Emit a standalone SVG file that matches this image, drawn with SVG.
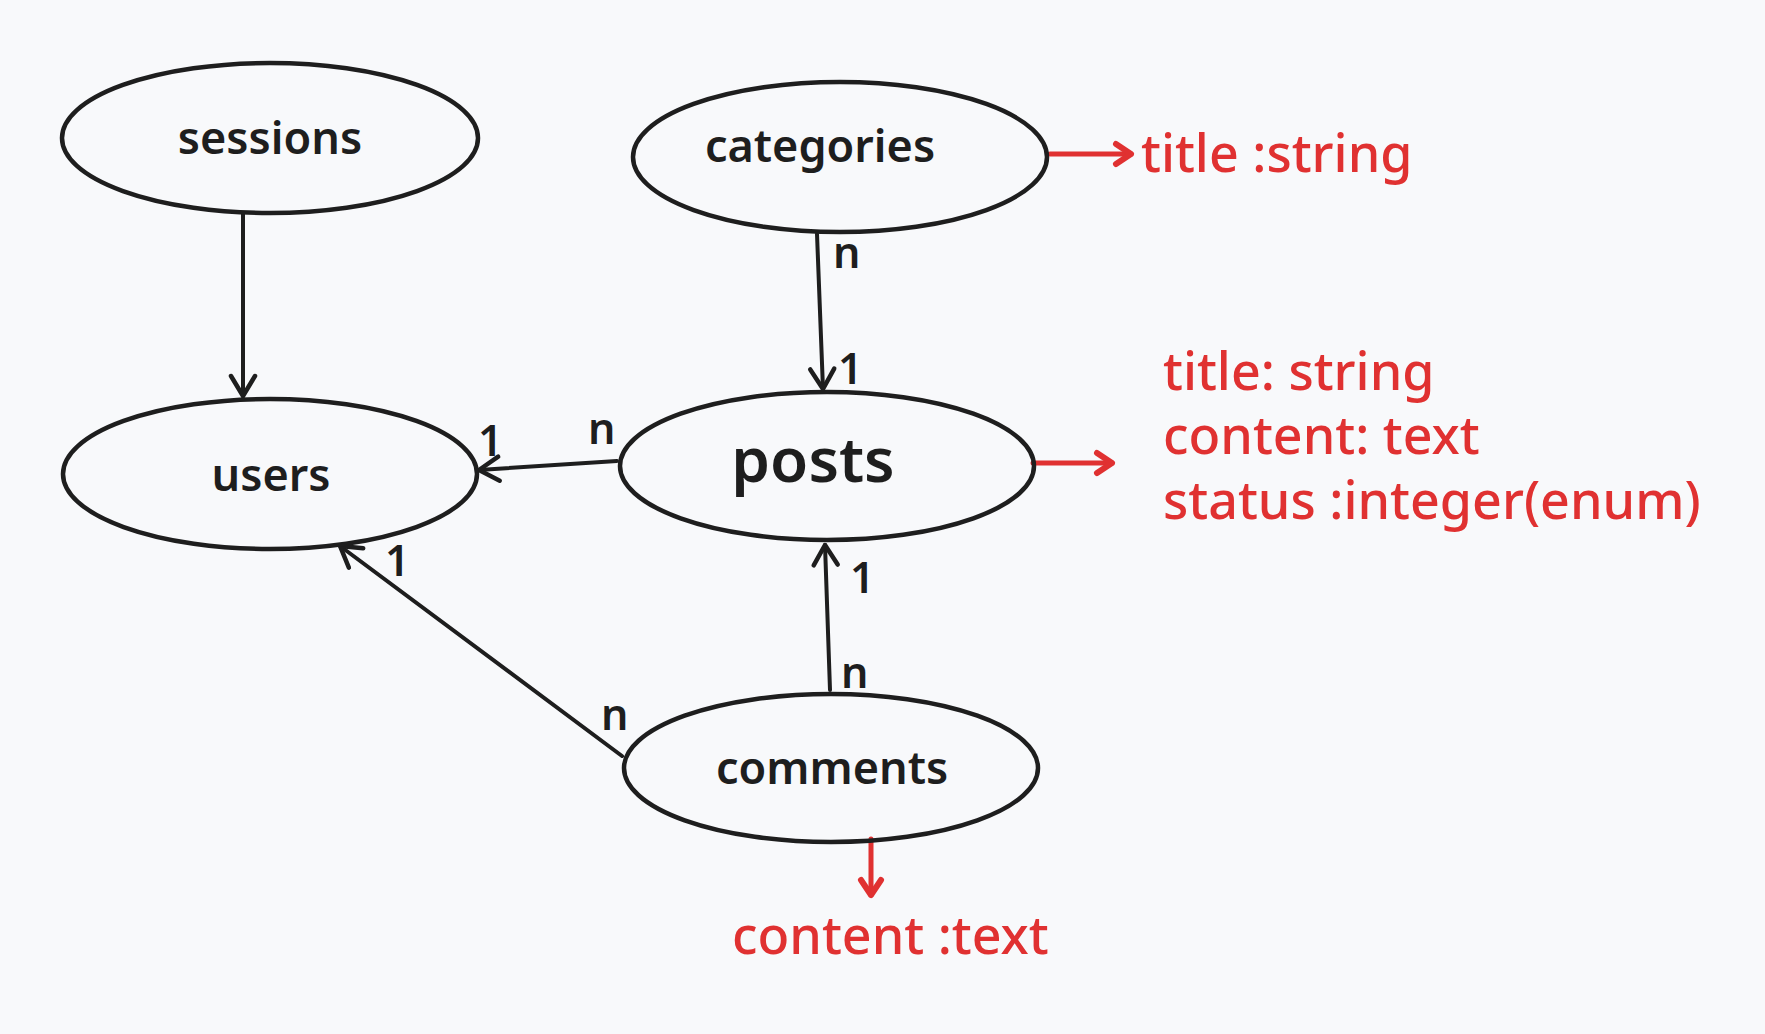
<svg xmlns="http://www.w3.org/2000/svg" width="1765" height="1034" viewBox="0 0 1765 1034">
<defs>
<style>
.node{fill:none;stroke:#1e1e1e;stroke-width:4.5}
.nt{font-family:"Noto Sans","DejaVu Sans",sans-serif;font-size:45px;font-weight:600;fill:#1e1e1e;text-anchor:middle}
.lbl{font-family:"Noto Sans","DejaVu Sans",sans-serif;font-size:43px;font-weight:600;fill:#1e1e1e}
.red{font-family:"Noto Sans","DejaVu Sans",sans-serif;font-size:52px;font-weight:500;fill:#e03131}
.edge{fill:none;stroke:#1e1e1e;stroke-width:4;stroke-linecap:round}
.redge{fill:none;stroke:#e03131;stroke-width:5;stroke-linecap:round}
</style>
<marker id="ah" markerUnits="userSpaceOnUse" viewBox="-26 -16 32 32" refX="0" refY="0" markerWidth="32" markerHeight="32" orient="auto" overflow="visible">
<path d="M-20,-12 L0,0 L-20,12" fill="none" stroke="#1e1e1e" stroke-width="4.5" stroke-linecap="round" stroke-linejoin="round"/>
</marker>
<marker id="rah" markerUnits="userSpaceOnUse" viewBox="-26 -16 32 32" refX="0" refY="0" markerWidth="32" markerHeight="32" orient="auto" overflow="visible">
<path d="M-15,-10 L0,0 L-15,10" fill="none" stroke="#e03131" stroke-width="6" stroke-linecap="round" stroke-linejoin="round"/>
</marker>
</defs>
<rect width="1765" height="1034" fill="#f8f9fb"/>
<g id="connectors">
<path class="edge" d="M243,214 L243,396" marker-end="url(#ah)"/>
<path class="edge" d="M817,234 L823,389" marker-end="url(#ah)"/>
<path class="edge" d="M617,461 L479,470" marker-end="url(#ah)"/>
<path class="edge" d="M830,690 L825,545" marker-end="url(#ah)"/>
<path class="edge" d="M622,756 L340,546" marker-end="url(#ah)"/>
<path class="redge" d="M1050,154 L1131,154" marker-end="url(#rah)"/>
<path class="redge" d="M1033,463 L1112,463" marker-end="url(#rah)"/>
<path class="redge" d="M871,839 L871,895" marker-end="url(#rah)"/>
<text class="lbl" x="833" y="268">n</text>
<text class="lbl" x="838" y="384">1</text>
<text class="lbl" x="588" y="444">n</text>
<text class="lbl" x="478" y="456">1</text>
<text class="lbl" x="850" y="593">1</text>
<text class="lbl" x="841" y="688">n</text>
<text class="lbl" x="385" y="576">1</text>
<text class="lbl" x="601" y="730">n</text>
</g>
<g id="sessions">
<ellipse class="node" cx="270" cy="138" rx="208" ry="75"/>
<text class="nt" x="270" y="154">sessions</text>
</g>
<g id="users">
<ellipse class="node" cx="270" cy="474" rx="207" ry="75"/>
<text class="nt" x="271" y="491">users</text>
</g>
<g id="categories">
<ellipse class="node" cx="840" cy="157" rx="207" ry="75"/>
<text class="nt" x="820" y="162">categories</text>
</g>
<g id="posts">
<ellipse class="node" cx="827" cy="466" rx="207" ry="74"/>
<text class="nt" x="813" y="482" style="font-size:62px">posts</text>
</g>
<g id="comments">
<ellipse class="node" cx="831" cy="768" rx="207" ry="74"/>
<text class="nt" x="832" y="784">comments</text>
</g>
<g id="categories-attrs">
<text class="red" x="1141" y="172">title :string</text>
</g>
<g id="posts-attrs">
<text class="red" x="1163" y="390">title: string</text>
<text class="red" x="1163" y="454">content: text</text>
<text class="red" x="1163" y="519">status :integer(enum)</text>
</g>
<g id="comments-attrs">
<text class="red" x="732" y="954">content :text</text>
</g>
</svg>
